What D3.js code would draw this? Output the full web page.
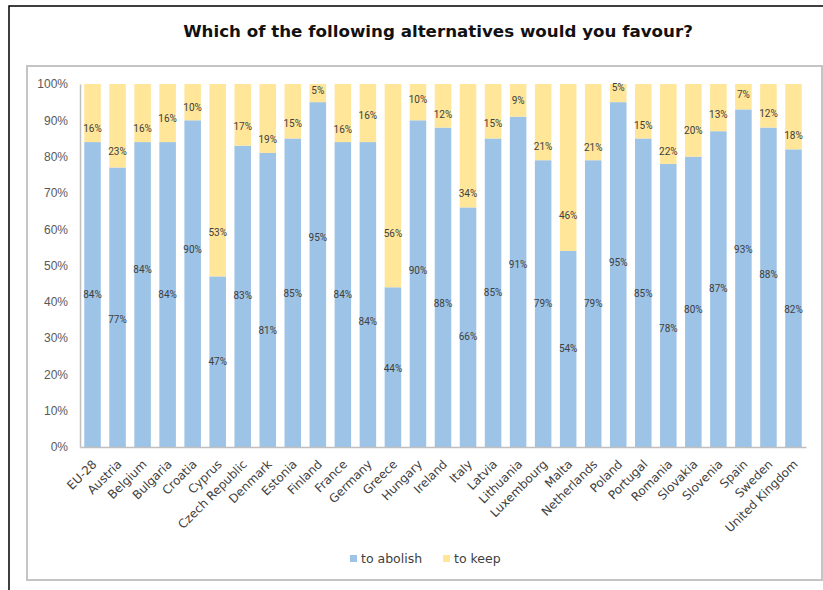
<!DOCTYPE html>
<html>
<head>
<meta charset="utf-8">
<script src="https://cdn.jsdelivr.net/npm/d3@7"></script>
<style>
  html, body { margin: 0; padding: 0; background: #ffffff; }
  svg { display: block; }
</style>
</head>
<body>
<svg id="chart" width="823" height="590"></svg>
<script>
// ---- data ----
const title = "Which of the following alternatives would you favour?";
const categories = ["EU-28","Austria","Belgium","Bulgaria","Croatia","Cyprus","Czech Republic","Denmark","Estonia","Finland","France","Germany","Greece","Hungary","Ireland","Italy","Latvia","Lithuania","Luxembourg","Malta","Netherlands","Poland","Portugal","Romania","Slovakia","Slovenia","Spain","Sweden","United Kingdom"];
const seriesNames = ["to abolish", "to keep"];
const toAbolish = [84,77,84,84,90,47,83,81,85,95,84,84,44,90,88,66,85,91,79,54,79,95,85,78,80,87,93,88,82];
const toKeep    = [16,23,16,16,10,53,17,19,15,5,16,16,56,10,12,34,15,9,21,46,21,5,15,22,20,13,7,12,18];
// where each data label sits (in % of the value axis)
const abolishLabelAt = [41.9,35.0,49.0,41.9,54.3,23.5,41.7,32.2,42.3,57.7,41.9,34.5,21.7,48.5,39.4,30.4,42.5,50.3,39.6,27.0,39.4,50.9,42.3,32.7,38.0,43.7,54.5,47.4,37.9];
const keepLabelAt    = [87.8,81.3,87.8,90.5,93.5,59.1,88.2,84.8,89.0,98.3,87.5,91.3,58.9,95.8,91.7,69.7,89.0,95.4,82.9,63.7,82.5,99.1,88.7,81.5,87.1,91.5,97.2,91.9,85.7];
const yTicks = [0,10,20,30,40,50,60,70,80,90,100];

// ---- styles / layout ----
const colors = { abolish: "#9dc3e6", keep: "#ffe699" };
const svg = d3.select("#chart");
const plot = { left: 80, right: 806, top: 84, bottom: 447 };

// outer frame
svg.append("rect").attr("x", 9).attr("y", 6).attr("width", 900).attr("height", 700)
  .attr("fill", "none").attr("stroke", "#000").attr("stroke-width", 1.5);
// inner chart box
svg.append("rect").attr("x", 27).attr("y", 66).attr("width", 795).attr("height", 514)
  .attr("fill", "#fff").attr("stroke", "#c4c4c4").attr("stroke-width", 2);

// title
const t = svg.append("text").attr("x", 438).attr("y", 37).attr("text-anchor", "middle")
  .attr("font-family", "DejaVu Sans").attr("font-weight", "bold").attr("font-size", 15)
  .attr("fill", "#111").text(title);
const tl = t.node().getComputedTextLength();
t.attr("font-size", 15 * 510 / tl);

// scales
const x = d3.scaleBand().domain(categories).range([plot.left, plot.right])
  .paddingInner(0.34).paddingOuter(0.17);
const y = d3.scaleLinear().domain([0, 100]).range([plot.bottom, plot.top]);

const rows = categories.map((c, i) => ({ cat: c, abolish: toAbolish[i], keep: toKeep[i],
  la: abolishLabelAt[i], lk: keepLabelAt[i] }));
const stack = d3.stack().keys(["abolish", "keep"])(rows);

// bars
svg.append("g").selectAll("g").data(stack).join("g")
  .attr("fill", d => colors[d.key])
  .selectAll("rect").data(d => d).join("rect")
  .attr("x", d => x(d.data.cat))
  .attr("width", x.bandwidth())
  .attr("y", d => y(d[1]))
  .attr("height", d => y(d[0]) - y(d[1]));

// axes
const yAxis = d3.axisLeft(y).tickValues(yTicks).tickSize(0).tickPadding(12)
  .tickFormat(d => d + "%");
const gy = svg.append("g").attr("transform", `translate(${plot.left},0)`).call(yAxis);
gy.select(".domain").attr("stroke", "#bfbfbf").attr("stroke-width", 1.5);
gy.selectAll("text").attr("font-family", "Liberation Sans").attr("font-size", 12).attr("fill", "#595959");

const xAxis = d3.axisBottom(x).tickSize(0).tickFormat("");
const gx = svg.append("g").attr("transform", `translate(0,${plot.bottom})`).call(xAxis);
gx.select(".domain").attr("stroke", "#bfbfbf").attr("stroke-width", 1.5);

// category labels
svg.append("g").selectAll("text").data(categories).join("text")
  .attr("transform", d => `translate(${x(d) + x.bandwidth() / 2 + 5},${plot.bottom + 18}) rotate(-45)`)
  .attr("text-anchor", "end")
  .attr("font-family", "DejaVu Sans").attr("font-size", 12).attr("fill", "#404040")
  .text(d => d);

// data labels
const lab = svg.append("g").attr("font-family", "Roboto").attr("font-size", 10)
  .attr("fill", "#404040").attr("text-anchor", "middle");
lab.selectAll("text.a").data(rows).join("text").attr("class", "a")
  .attr("x", d => x(d.cat) + x.bandwidth() / 2).attr("y", d => y(d.la)).attr("dy", "0.35em")
  .text(d => d.abolish + "%");
lab.selectAll("text.k").data(rows).join("text").attr("class", "k")
  .attr("x", d => x(d.cat) + x.bandwidth() / 2).attr("y", d => y(d.lk)).attr("dy", "0.35em")
  .text(d => d.keep + "%");

// legend
const legendItems = [
  { name: seriesNames[0], color: colors.abolish, x: 350 },
  { name: seriesNames[1], color: colors.keep, x: 443 }
];
const lg = svg.append("g");
lg.selectAll("rect").data(legendItems).join("rect")
  .attr("x", d => d.x).attr("y", 555).attr("width", 7).attr("height", 7).attr("fill", d => d.color);
lg.selectAll("text").data(legendItems).join("text")
  .attr("x", d => d.x + 11).attr("y", 558.5).attr("dy", "0.35em")
  .attr("font-family", "DejaVu Sans").attr("font-size", 12.5).attr("fill", "#404040")
  .text(d => d.name);
</script>
</body>
</html>
